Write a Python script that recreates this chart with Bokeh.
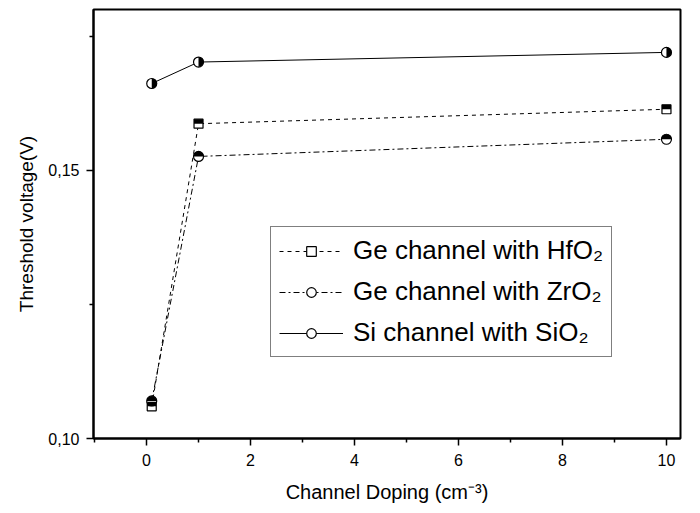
import math
from bokeh.plotting import figure
from bokeh.models import (FixedTicker, CustomJSTickFormatter, Range1d, Legend, LegendItem,
                          ColumnDataSource)
from bokeh.transform import dodge
from bokeh.embed import file_html
from bokeh.resources import INLINE

# ---- data ----
doping = [0.1, 1, 10]
ge_hfo2 = [0.1060, 0.1587, 0.1614]
ge_zro2 = [0.1070, 0.1526, 0.1558]
si_sio2 = [0.1662, 0.1702, 0.1720]

labels = ["Ge channel with HfO\u2082", "Ge channel with ZrO\u2082", "Si channel with SiO\u2082"]
x_major = [0, 2, 4, 6, 8, 10]
x_minor = [-1, 1, 3, 5, 7, 9]
y_major = [0.10, 0.15]
y_minor = [0.125, 0.175]

X0, X1 = -1.02, 10.27
Y0, Y1 = 0.10, 0.1800
FRAME_H = 429
FONT = "Liberation Sans"

p = figure(width=700, height=513, output_backend="svg", toolbar_location=None,
           x_range=Range1d(X0, X1), y_range=Range1d(Y0, Y1),
           min_border_left=93, min_border_right=20, min_border_top=9, min_border_bottom=75)
p.grid.visible = False
p.outline_line_color = "black"
p.outline_line_width = 2
p.background_fill_color = "white"
p.border_fill_color = "white"

src_hf = ColumnDataSource(dict(x=doping, y=ge_hfo2))
src_zr = ColumnDataSource(dict(x=doping, y=ge_zro2))
src_si = ColumnDataSource(dict(x=doping, y=si_sio2))

l_hf = p.line("x", "y", source=src_hf, line_color="black", line_width=1, line_dash="4 4")
l_zr = p.line("x", "y", source=src_zr, line_color="black", line_width=1, line_dash="6 3 2 3")
l_si = p.line("x", "y", source=src_si, line_color="black", line_width=1)

m_hf = p.scatter("x", "y", source=src_hf, marker="square", size=9, fill_color="white",
                 line_color="black", line_width=1.2)
m_zr = p.scatter("x", "y", source=src_zr, marker="circle", size=10, fill_color="white",
                 line_color="black", line_width=1.2)
m_si = p.scatter("x", "y", source=src_si, marker="circle", size=10, fill_color="white",
                 line_color="black", line_width=1.2)

# half fills
dy = 2.25 * (Y1 - Y0) / FRAME_H
p.rect(x="x", y=dodge("y", dy, range=p.y_range), width=9, height=4.5,
       width_units="screen", height_units="screen", source=src_hf,
       fill_color="black", line_color=None)
p.wedge(x="x", y="y", radius=5, radius_units="screen", start_angle=0, end_angle=math.pi,
        source=src_zr, fill_color="black", line_color=None)
p.wedge(x="x", y="y", radius=5, radius_units="screen", start_angle=-math.pi / 2,
        end_angle=math.pi / 2, source=src_si, fill_color="black", line_color=None)

# axes
for ax in (p.xaxis[0], p.yaxis[0]):
    ax.axis_line_width = 2
    ax.major_tick_line_width = 1.5
    ax.minor_tick_line_width = 1.5
    ax.major_tick_in = 0
    ax.major_tick_out = 7
    ax.minor_tick_in = 0
    ax.minor_tick_out = 4
    ax.major_label_text_font = FONT
    ax.major_label_text_font_size = "16px"
    ax.major_label_text_color = "black"
    ax.axis_label_text_font = FONT
    ax.axis_label_text_font_style = "normal"
    ax.axis_label_text_color = "black"

p.xaxis.axis_label_text_font_size = "20px"
p.yaxis.axis_label_text_font_size = "19px"
p.xaxis.ticker = FixedTicker(ticks=x_major, minor_ticks=x_minor)
p.yaxis.ticker = FixedTicker(ticks=y_major, minor_ticks=y_minor)
p.yaxis.formatter = CustomJSTickFormatter(code="return tick.toFixed(2).replace('.', ',');")
p.xaxis.axis_label = "Channel Doping (cm\u207b\u00b3)"
p.yaxis.axis_label = "Threshold voltage(V)"
p.xaxis.major_label_standoff = 8
p.yaxis.major_label_standoff = 7
p.xaxis.axis_label_standoff = 12
p.yaxis.axis_label_standoff = 8

legend = Legend(items=[
    LegendItem(label=labels[0], renderers=[l_hf, m_hf]),
    LegendItem(label=labels[1], renderers=[l_zr, m_zr]),
    LegendItem(label=labels[2], renderers=[l_si, m_si]),
], location=(177, 81))
legend.label_text_font = FONT
legend.label_text_font_size = "26px"
legend.label_text_color = "black"
legend.glyph_width = 64
legend.glyph_height = 24
legend.spacing = 10
legend.padding = 8
legend.label_standoff = 10
legend.border_line_color = "black"
legend.border_line_width = 1
legend.background_fill_alpha = 1
legend.margin = 0
p.add_layout(legend, "center")

open("out.html", "w").write(file_html(p, INLINE))
